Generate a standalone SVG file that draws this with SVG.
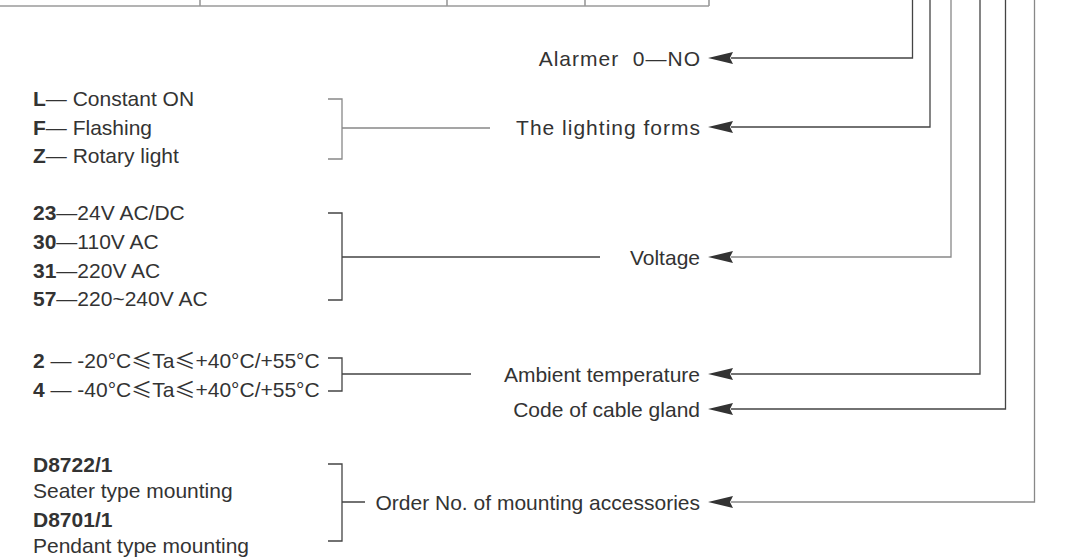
<svg xmlns="http://www.w3.org/2000/svg" width="1065" height="559" viewBox="0 0 1065 559">
<style>
text{font-family:"Liberation Sans",Arial,sans-serif;font-size:21px;fill:#333}
.b{font-weight:bold}
.r{text-anchor:end}
.sp{letter-spacing:1px}
.cjk{font-family:"Noto Sans CJK SC",sans-serif}
.ln{fill:none;stroke:#444;stroke-width:1.3}
.lg{fill:none;stroke:#888;stroke-width:1.3}
.tb{fill:none;stroke:#9a9a9a;stroke-width:1.6}
.ah{fill:#333}
</style>
<defs>
<polygon id="arr" class="ah" points="0,0 25,-6 22,0 25,6"/>
</defs>
<rect width="1065" height="559" fill="#fff"/>
<g id="table">
<path class="tb" d="M0,6 H709 M200,0 V6 M447,0 V6 M585,0 V6 M709,0 V6"/>
</g>
<g id="connectors">
<path class="ln" d="M731,58 H912.5 V0"/>
<path class="ln" d="M731,127 H930 V0"/>
<path class="lg" d="M731,257 H951 V0"/>
<path class="ln" d="M731,374 H980 V0"/>
<path class="ln" d="M731,409 H1005.5 V0"/>
<path class="lg" d="M731,502 H1034.5 V0"/>
<use href="#arr" x="708" y="58"/>
<use href="#arr" x="708" y="127"/>
<use href="#arr" x="708" y="257"/>
<use href="#arr" x="708" y="374"/>
<use href="#arr" x="708" y="409"/>
<use href="#arr" x="708" y="502"/>
<path class="lg" d="M328,99 H342 V159 H328 M342,128 H490"/>
<path class="ln" d="M328,213 H342 V300 H328 M342,257 H600"/>
<path class="ln" d="M328,358 H342 V391 H328 M342,374 H471"/>
<path class="ln" d="M328,464 H342 V541 H328 M342,502 H365"/>
</g>
<g id="alarmer"><text class="r sp" x="701" y="65.5" xml:space="preserve">Alarmer  0—NO</text></g>
<g id="lighting">
<text class="r sp" x="701" y="134.5">The lighting forms</text>
<text x="33" y="106"><tspan class="b">L</tspan>— Constant ON</text>
<text x="33" y="134.5"><tspan class="b">F</tspan>— Flashing</text>
<text x="33" y="163"><tspan class="b">Z</tspan>— Rotary light</text>
</g>
<g id="voltage">
<text class="r" x="700" y="264.5">Voltage</text>
<text x="33" y="220"><tspan class="b">23</tspan>—24V AC/DC</text>
<text x="33" y="249"><tspan class="b">30</tspan>—110V AC</text>
<text x="33" y="277.5"><tspan class="b">31</tspan>—220V AC</text>
<text x="33" y="306"><tspan class="b">57</tspan>—220~240V AC</text>
</g>
<g id="ambient">
<text class="r" x="700" y="381.5">Ambient temperature</text>
<text x="33" y="368"><tspan class="b">2</tspan> — -20°C<tspan class="cjk">≤</tspan>Ta<tspan class="cjk">≤</tspan>+40°C/+55°C</text>
<text x="33" y="397"><tspan class="b">4</tspan> — -40°C<tspan class="cjk">≤</tspan>Ta<tspan class="cjk">≤</tspan>+40°C/+55°C</text>
</g>
<g id="cable"><text class="r" x="700" y="416.5">Code of cable gland</text></g>
<g id="mounting">
<text class="r" x="700" y="509.5">Order No. of mounting accessories</text>
<text class="b" x="33" y="472">D8722/1</text>
<text x="33" y="498">Seater type mounting</text>
<text class="b" x="33" y="527">D8701/1</text>
<text x="33" y="553">Pendant type mounting</text>
</g>
</svg>
